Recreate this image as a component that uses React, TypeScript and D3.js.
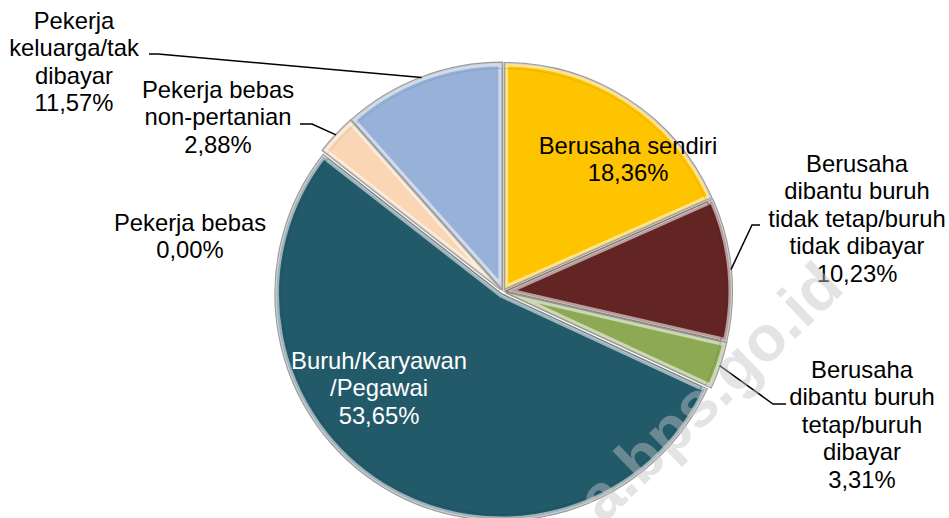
import React from "react";
import * as d3 from "d3";

const categories = [
  "Berusaha sendiri",
  "Berusaha dibantu buruh tidak tetap/buruh tidak dibayar",
  "Berusaha dibantu buruh tetap/buruh dibayar",
  "Buruh/Karyawan/Pegawai",
  "Pekerja bebas",
  "Pekerja bebas non-pertanian",
  "Pekerja keluarga/tak dibayar",
];
const values = [18.36, 10.23, 3.31, 53.65, 0.0, 2.88, 11.57];
const labelLines = [
  ["Berusaha sendiri"],
  ["Berusaha", "dibantu buruh", "tidak tetap/buruh", "tidak dibayar"],
  ["Berusaha", "dibantu buruh", "tetap/buruh", "dibayar"],
  ["Buruh/Karyawan", "/Pegawai"],
  ["Pekerja bebas"],
  ["Pekerja bebas", "non-pertanian"],
  ["Pekerja", "keluarga/tak", "dibayar"],
];
const colors = ["#FFC400", "#632523", "#8DA953", "#235A6A", "#C0504D", "#FAD6B4", "#97B1D8"];
const watermark = "a.bps.go.id";

// layout (positions only)
const W = 949, H = 518;
const cx = 503, cy = 291.5, R = 226, explode = 3;
const labelPos: { x: number; y: number; color: string; leader?: [number, number][] }[] = [
  { x: 628, y: 154, color: "#000" },
  { x: 857, y: 172, color: "#000", leader: [[752, 225], [760, 225]] },
  { x: 862, y: 378, color: "#000", leader: [[773, 404], [786, 404]] },
  { x: 379, y: 369, color: "#fff" },
  { x: 190, y: 231, color: "#000" },
  { x: 218, y: 98, color: "#000", leader: [[312, 124], [300, 124]] },
  { x: 74, y: 29, color: "#000", leader: [[158, 54], [149, 54]] },
];
const lineH = 27.4;
const fontSize = 23.8;

const fmt = (v: number) => v.toFixed(2).replace(".", ",") + "%";

export default function App() {
  const pie = d3.pie<number>().sort(null).value((d) => d).startAngle(0).endAngle(2 * Math.PI);
  const arcs = pie(values);
  const arc = d3.arc<d3.PieArcDatum<number>>().innerRadius(0).outerRadius(R);

  const shift = (a: d3.PieArcDatum<number>) => {
    const m = (a.startAngle + a.endAngle) / 2;
    return [Math.sin(m) * explode, -Math.cos(m) * explode];
  };

  return (
    <svg width={W} height={H} style={{ position: "absolute", left: 0, top: 0, background: "#fff" }}
      fontFamily="'Liberation Sans', Arial, sans-serif">
      <defs>
        <linearGradient id="bevel" gradientUnits="userSpaceOnUse" x1={cx - R} y1={cy - R} x2={cx + R} y2={cy + R}>
          <stop offset="0" stopColor="#fff" stopOpacity={0.55} />
          <stop offset="0.5" stopColor="#fff" stopOpacity={0.15} />
          <stop offset="1" stopColor="#000" stopOpacity={0.35} />
        </linearGradient>
        {arcs.map((a, i) => (
          <clipPath id={`clip${i}`} key={i}>
            <path d={arc(a) || ""} />
          </clipPath>
        ))}
      </defs>
      <g transform={`translate(${cx},${cy})`}>
        {arcs.map((a, i) => {
          if (a.endAngle - a.startAngle <= 0) return null;
          const [dx, dy] = shift(a);
          const d = arc(a) || "";
          return (
            <g key={i} transform={`translate(${dx},${dy})`}>
              <path d={d} fill={colors[i]} stroke="#9a9a9a" strokeWidth={2.2} />
              <path d={d} fill="none" stroke="url(#bevel)" strokeWidth={7} clipPath={`url(#clip${i})`} />
              <path d={d} fill="none" stroke={d3.color(colors[i])!.darker(0.6).formatHex()} strokeWidth={1} strokeOpacity={0.5}
                transform="scale(0.975)" />
            </g>
          );
        })}
      </g>
      {/* leader lines */}
      {arcs.map((a, i) => {
        const lp = labelPos[i];
        if (!lp.leader) return null;
        const m = (a.startAngle + a.endAngle) / 2;
        const r0 = R + explode;
        const p0: [number, number] = [cx + Math.sin(m) * r0, cy - Math.cos(m) * r0];
        const pts = [p0, ...lp.leader];
        return <path key={i} d={d3.line()(pts) || ""} fill="none" stroke="#000" strokeWidth={1.5} />;
      })}
      {/* labels */}
      {arcs.map((a, i) => {
        const lp = labelPos[i];
        const lines = [...labelLines[i], fmt(values[i])];
        return (
          <text key={i} x={lp.x} y={lp.y} fill={lp.color} fontSize={fontSize} textAnchor="middle">
            {lines.map((t, j) => (
              <tspan key={j} x={lp.x} y={lp.y + j * lineH}>{t}</tspan>
            ))}
          </text>
        );
      })}
      {/* watermark */}
      <text x={0} y={0} transform="translate(846,290) rotate(-44)" textAnchor="end" fontSize={64} fontWeight="bold"
        fill="#c4c4c4" fillOpacity={0.45}>{watermark}</text>
    </svg>
  );
}
